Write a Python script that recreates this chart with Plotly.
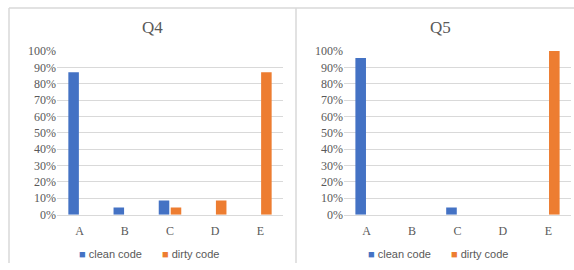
import plotly.graph_objects as go

categories = ["A", "B", "C", "D", "E"]
q4_clean = [0.87, 0.043, 0.087, 0.0, 0.0]
q4_dirty = [0.0, 0.0, 0.043, 0.087, 0.87]
q5_clean = [0.957, 0.0, 0.043, 0.0, 0.0]
q5_dirty = [0.0, 0.0, 0.0, 0.0, 1.0]
tick_vals = [i / 10 for i in range(11)]
tick_text = [f"{i*10}%" for i in range(11)]

W, H = 574, 270
BLUE = "#4472C4"
ORANGE = "#ED7D31"
GRAY = "#595959"
GRID = "#d9d9d9"

def px_x(p):
    return p / W

def px_y(p):
    return 1 - p / H

def nz(vals):
    # zero shares draw no bar
    return [v if v else None for v in vals]

fig = go.Figure()
for vals, name, color, xa, ya in [
    (q4_clean, "clean code", BLUE, "x", "y"),
    (q4_dirty, "dirty code", ORANGE, "x", "y"),
    (q5_clean, "clean code", BLUE, "x2", "y2"),
    (q5_dirty, "dirty code", ORANGE, "x2", "y2"),
]:
    fig.add_bar(x=categories, y=nz(vals), name=name, marker_color=color,
                marker_line_width=0, xaxis=xa, yaxis=ya, showlegend=False)

ydom = [px_y(219), px_y(46.5)]
axis_common_y = dict(range=[0, 1], tickvals=tick_vals, ticktext=tick_text,
                     showgrid=True, gridcolor=GRID, gridwidth=1,
                     zeroline=False, showline=False, ticks="",
                     tickfont=dict(family="Liberation Serif", size=12, color=GRAY),
                     domain=ydom, fixedrange=True)
axis_common_x = dict(showline=True, linecolor=GRID, linewidth=1, ticks="",
                     tickfont=dict(family="Liberation Serif", size=12, color=GRAY),
                     ticklabelstandoff=5,
                     showgrid=False, zeroline=False, fixedrange=True)

fig.update_layout(
    width=W, height=H,
    margin=dict(l=0, r=0, t=0, b=0),
    paper_bgcolor="white", plot_bgcolor="white",
    barmode="group", bargap=0.47, bargroupgap=0.12,
    xaxis=dict(domain=[px_x(57), px_x(283)], anchor="y", **axis_common_x),
    yaxis=dict(anchor="x", **axis_common_y),
    xaxis2=dict(domain=[px_x(344), px_x(571)], anchor="y2", **axis_common_x),
    yaxis2=dict(anchor="x2", **axis_common_y),
)

# panel frames
TOP = 1.0
line = dict(color=GRID, width=1.5)
fig.add_shape(type="line", xref="paper", yref="paper", x0=px_x(9), x1=1, y0=px_y(TOP), y1=px_y(TOP), line=line)
fig.add_shape(type="line", xref="paper", yref="paper", x0=px_x(9), x1=px_x(9), y0=0, y1=px_y(TOP), line=line)
fig.add_shape(type="line", xref="paper", yref="paper", x0=px_x(296), x1=px_x(296), y0=0, y1=px_y(TOP), line=line)

# titles
for txt, cx in [("Q4", 152), ("Q5", 440)]:
    fig.add_annotation(text=txt, x=px_x(cx), y=px_y(21.5), xref="paper", yref="paper",
                       showarrow=False, xanchor="center", yanchor="middle",
                       font=dict(family="Liberation Serif", size=17, color=GRAY))

# legends
for cx in [122, 411]:
    fig.add_annotation(text="<span style='color:%s'>■</span> clean code" % BLUE,
                       x=px_x(cx + 22), y=px_y(261), xref="paper", yref="paper",
                       showarrow=False, xanchor="right", yanchor="middle",
                       font=dict(family="Liberation Sans", size=11, color=GRAY))
    fig.add_annotation(text="<span style='color:%s'>■</span> dirty code" % ORANGE,
                       x=px_x(cx + 38), y=px_y(261), xref="paper", yref="paper",
                       showarrow=False, xanchor="left", yanchor="middle",
                       font=dict(family="Liberation Sans", size=11, color=GRAY))

fig.write_html("out.html",
               config={"displayModeBar": False},
               post_script="document.body.style.margin='0';document.body.style.overflow='hidden';")
